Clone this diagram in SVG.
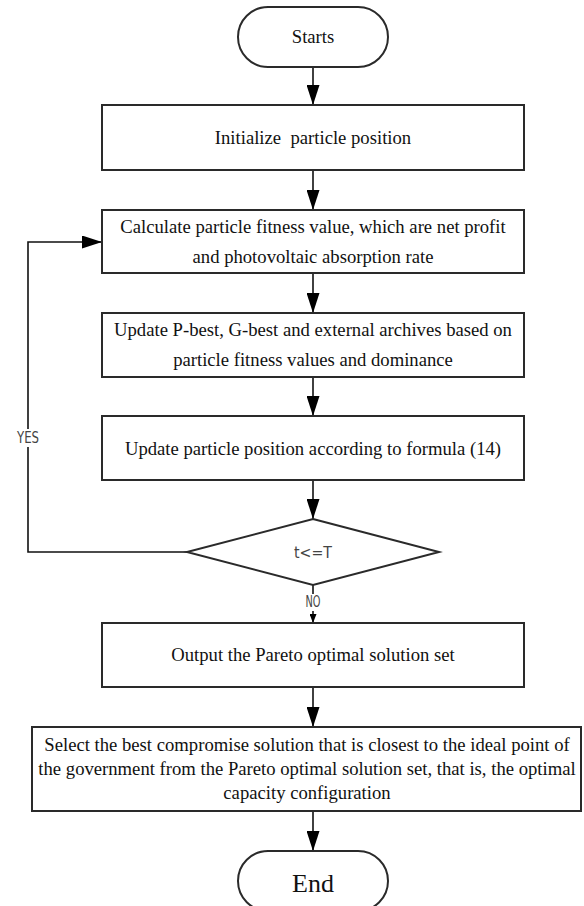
<svg xmlns="http://www.w3.org/2000/svg" width="584" height="906" viewBox="0 0 584 906">
<defs>
<marker id="ah" markerWidth="20" markerHeight="13" refX="20" refY="6.5" orient="auto" markerUnits="userSpaceOnUse" viewBox="0 0 20 13">
<path d="M0,0 L20,6.5 L0,13 Z" fill="#000"/>
</marker>
<marker id="ahs" markerWidth="9" markerHeight="7" refX="9" refY="3.5" orient="auto" markerUnits="userSpaceOnUse" viewBox="0 0 9 7">
<path d="M0,0 L9,3.5 L0,7 Z" fill="#000"/>
</marker>
</defs>
<style>
.shape{fill:#fff;stroke:#2a2a2a;stroke-width:2}
.t{font-family:"Liberation Serif","Times New Roman",serif;font-size:18.67px;fill:#111;text-anchor:middle}
.s{font-family:"Liberation Sans Narrow","DejaVu Sans Condensed","Liberation Sans",sans-serif;font-size:15px;fill:#444;text-anchor:middle}
.c{fill:none;stroke:#111;stroke-width:1.6}
</style>
<rect width="584" height="906" fill="#fff"/>
<g id="connectors">
<line class="c" x1="313" y1="67" x2="313" y2="105" marker-end="url(#ah)"/>
<line class="c" x1="313" y1="170" x2="313" y2="210" marker-end="url(#ah)"/>
<line class="c" x1="313" y1="273" x2="313" y2="313" marker-end="url(#ah)"/>
<line class="c" x1="313" y1="377" x2="313" y2="416" marker-end="url(#ah)"/>
<line class="c" x1="313" y1="480" x2="313" y2="519" marker-end="url(#ah)"/>
<line class="c" x1="313" y1="585" x2="313" y2="623" marker-end="url(#ahs)"/>
<line class="c" x1="313" y1="687" x2="313" y2="727" marker-end="url(#ah)"/>
<line class="c" x1="313" y1="811" x2="313" y2="851" marker-end="url(#ah)"/>
<polyline class="c" points="187,552 28,552 28,242 102,242" marker-end="url(#ah)"/>
<rect x="14" y="429" width="28" height="18" fill="#fff"/>
<text class="s" x="28" y="443" textLength="22" lengthAdjust="spacingAndGlyphs">YES</text>
<rect x="302" y="594" width="22" height="17" fill="#fff"/>
<text class="s" x="313" y="607" textLength="15" lengthAdjust="spacingAndGlyphs">NO</text>
</g>
<g id="start">
<rect class="shape" x="238" y="7" width="150" height="60" rx="30"/>
<text class="t" x="313" y="43">Starts</text>
</g>
<g id="init">
<rect class="shape" x="102" y="105" width="422" height="65"/>
<text class="t" x="313" y="144" xml:space="preserve">Initialize  particle position</text>
</g>
<g id="calc">
<rect class="shape" x="102" y="210" width="422" height="63"/>
<text class="t" x="313" y="233">Calculate particle fitness value, which are net profit</text>
<text class="t" x="313" y="263">and photovoltaic absorption rate</text>
</g>
<g id="update-best">
<rect class="shape" x="102" y="313" width="422" height="64"/>
<text class="t" x="313" y="336">Update P-best, G-best and external archives based on</text>
<text class="t" x="313" y="366">particle fitness values and dominance</text>
</g>
<g id="update-pos">
<rect class="shape" x="102" y="416" width="422" height="64"/>
<text class="t" x="313" y="455">Update particle position according to formula (14)</text>
</g>
<g id="decision">
<polygon class="shape" points="313,519 439,552 313,585 187,552"/>
<text class="s" x="313" y="558" style="font-size:16px" textLength="38" lengthAdjust="spacingAndGlyphs">t&lt;=T</text>
</g>
<g id="output">
<rect class="shape" x="102" y="623" width="422" height="64"/>
<text class="t" x="313" y="661">Output the Pareto optimal solution set</text>
</g>
<g id="select">
<rect class="shape" x="32" y="727" width="549" height="84"/>
<text class="t" x="307" y="751">Select the best compromise solution that is closest to the ideal point of</text>
<text class="t" x="307" y="775">the government from the Pareto optimal solution set, that is, the optimal</text>
<text class="t" x="307" y="799">capacity configuration</text>
</g>
<g id="end">
<rect class="shape" x="238" y="851" width="150" height="60" rx="30"/>
<text class="t" x="313" y="892" style="font-size:26px">End</text>
</g>
</svg>
